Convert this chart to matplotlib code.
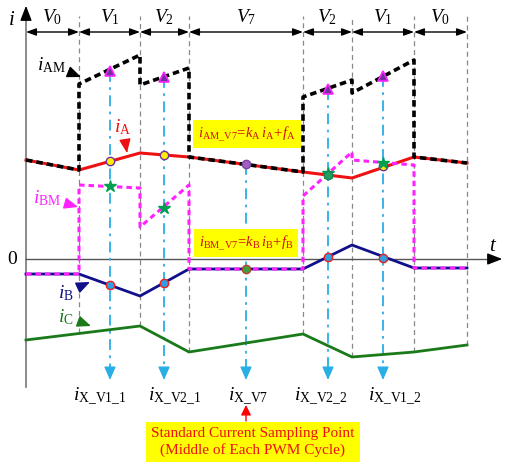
import numpy as np
import matplotlib
matplotlib.use('Agg')
import matplotlib.pyplot as plt

plt.rcParams['font.family'] = ['Liberation Serif', 'DejaVu Serif']
plt.rcParams['mathtext.fontset'] = 'custom'
plt.rcParams['mathtext.rm'] = 'Liberation Serif'
plt.rcParams['mathtext.it'] = 'Liberation Serif:italic'

# time boundaries of the vector sequence (arbitrary time units)
t_bounds = [0, 53, 114, 163, 277, 326, 388, 441]
vec_names = ['0', '1', '2', '7', '2', '1', '0']

# phase currents at the boundaries
i_A = [0.99, 0.89, 1.06, 1.02, 0.87, 0.81, 1.02, 0.96]
i_B = [-0.15, -0.15, -0.37, -0.10, -0.10, 0.14, -0.09, -0.09]
t_C = [0, 114, 163, 277, 326, 388, 441]
i_C = [-0.81, -0.67, -0.93, -0.75, -0.98, -0.93, -0.86]

# measured (DC-link) currents with jumps at switching instants
t_M = [0, 53, 53, 114, 114, 163, 163, 277, 277, 326, 326, 388, 388, 441]
i_AM = [0.99, 0.89, 1.75, 2.04, 1.74, 1.91, 1.02, 0.87, 1.62, 1.79, 1.66, 1.99, 1.02, 0.96]
i_BM = [-0.15, -0.15, 0.74, 0.71, 0.32, 0.74, -0.10, -0.10, 0.63, 1.07, 0.99, 0.94, -0.09, -0.09]

# sampling instants and sampled values
t_samp = [84, 138, 220, 302, 357]
samp_labels = ['X\\_V1\\_1', 'X\\_V2\\_1', 'X\\_V7', 'X\\_V2\\_2', 'X\\_V1\\_2']
label_x = [47, 122, 202, 268, 342]
samp_AM = [1.88, 1.82, None, 1.70, 1.83]
samp_A = [0.98, 1.04, 0.95, 0.84, 0.93]
samp_BM = [0.73, 0.51, None, 0.86, 0.96]
samp_B = [-0.26, -0.24, -0.10, 0.02, 0.01]

fig = plt.figure(figsize=(5.05, 4.65), dpi=100)
ax = fig.add_axes([0, 0, 1, 1])
ax.set_xlim(-26, 479)
ax.set_ylim(-2.06, 2.59)
ax.axis('off')

red = '#ee1111'
navy = '#10108a'
green = '#1a7a1a'
mag = '#ff22ff'
cyan = '#2aaee6'

# axes
ax.plot([0, 0], [-1.28, 2.45], color='#777777', lw=1.2, zorder=2)
ax.annotate('', xy=(0, 2.56), xytext=(0, 2.40),
            arrowprops=dict(arrowstyle='-|>,head_length=0.9,head_width=0.35', color='black', lw=1))
ax.plot([0, 468], [0, 0], color='#555555', lw=1, zorder=2)
ax.annotate('', xy=(479, 0), xytext=(462, 0),
            arrowprops=dict(arrowstyle='-|>,head_length=0.9,head_width=0.35', color='black', lw=1))
ax.text(-14, 2.39, r'$i$', fontsize=15, ha='center', va='center')
ax.text(467, 0.13, r'$t$', fontsize=15, ha='center', va='center')
ax.text(-14, 0.0, '0', fontsize=14, ha='center', va='center')

# boundary dashed lines
for tb in t_bounds[1:]:
    bot = np.interp(tb, t_C, i_C)
    ax.plot([tb, tb], [bot, 2.43], color='#888888', lw=0.9, ls=(0, (4, 3)), zorder=1)

# vector interval arrows and names
for k in range(len(vec_names)):
    a, b = t_bounds[k], t_bounds[k + 1]
    ax.annotate('', xy=(b, 2.27), xytext=(a, 2.27),
                arrowprops=dict(arrowstyle='<|-|>,head_length=0.6,head_width=0.22',
                                color='black', lw=1, shrinkA=0, shrinkB=0))
    ax.text((a + b) / 2, 2.42, r'$V_{%s}$' % vec_names[k], fontsize=14, ha='center', va='center')

# currents
ax.plot(t_bounds, i_A, color=red, lw=2.2, zorder=3)
ax.plot(t_M, i_AM, color='black', lw=2.6, ls=(0, (1.8, 1.1)), zorder=4)
ax.plot(t_bounds, i_B, color=navy, lw=2.0, zorder=3)
ax.plot(t_M, i_BM, color=mag, lw=2.2, ls=(0, (1.8, 1.3)), zorder=4)
ax.plot(t_C, i_C, color=green, lw=2.0, zorder=3)

# sampling lines and arrows
for k, ts in enumerate(t_samp):
    top = samp_AM[k] if samp_AM[k] is not None else samp_A[k]
    ax.plot([ts, ts], [top, -1.10], color=cyan, lw=1.3, ls=(0, (6, 3, 1.5, 3)), zorder=2)
    ax.annotate('', xy=(ts, -1.21), xytext=(ts, -1.09),
                arrowprops=dict(arrowstyle='-|>,head_length=0.8,head_width=0.35',
                                color=cyan, lw=1, shrinkA=0, shrinkB=0))
    ax.text(label_x[k], -1.38, r'$i_{\rm %s}$' % samp_labels[k], fontsize=14,
            ha='left', va='center')

# markers
for k, ts in enumerate(t_samp):
    if samp_AM[k] is not None:
        ax.plot(ts, samp_AM[k], marker='^', ms=7, mfc='#7030a0', mec=mag, mew=1.2, zorder=6)
    if samp_BM[k] is not None:
        ax.plot(ts, samp_BM[k], marker='*', ms=9, color='#00a050', zorder=6)
    if k == 2:
        ax.plot(ts, samp_A[k], marker='o', ms=6, mfc='#a060c0', mec='#8040a0', zorder=6)
        ax.plot(ts, samp_B[k], marker='o', ms=6, mfc='#40a040', mec='#c04030', zorder=6)
    elif k == 3:
        ax.plot(ts, samp_A[k], marker='o', ms=6, mfc='#20a060', mec='#208050', zorder=6)
        ax.plot(ts, samp_B[k], marker='o', ms=6, mfc='#30a0e0', mec='#ee2020', zorder=6)
    else:
        ax.plot(ts, samp_A[k], marker='o', ms=6, mfc='#ffee00', mec='#7030a0', zorder=5)
        ax.plot(ts, samp_B[k], marker='o', ms=6, mfc='#30a0e0', mec='#ee2020', zorder=6)

# curve labels
def tag(txt, xy_txt, xy_arr, col):
    ax.annotate(txt, xy=xy_arr, xytext=xy_txt, fontsize=14, color=col, ha='center', va='center',
                arrowprops=dict(arrowstyle='-|>,head_length=0.6,head_width=0.25', color=col, lw=1,
                                shrinkA=8, shrinkB=0))

tag(r'$i_{\rm AM}$', (25, 1.94), (55, 1.82), 'black')
tag(r'$i_{\rm A}$', (97, 1.32), (101, 1.06), red)
tag(r'$i_{\rm BM}$', (21, 0.61), (52, 0.52), mag)
tag(r'$i_{\rm B}$', (40, -0.34), (64, -0.23), navy)
tag(r'$i_{\rm C}$', (40, -0.58), (65, -0.67), green)

# formula boxes
ax.text(221, 1.25, r'$i_{\rm AM\_V7}\!=\!k_{\rm A}\,i_{\rm A}\!+\!f_{\rm A}$', fontsize=10.5,
        color='#d01010', ha='center', va='center',
        bbox=dict(facecolor='#ffff00', edgecolor='none', pad=3.5))
ax.text(220, 0.16, r'$i_{\rm BM\_V7}\!=\!k_{\rm B}\,i_{\rm B}\!+\!f_{\rm B}$', fontsize=10.5,
        color='#d01010', ha='center', va='center',
        bbox=dict(facecolor='#ffff00', edgecolor='none', pad=3.5))

# standard sampling point note
ax.annotate('', xy=(220, -1.46), xytext=(220, -1.62),
            arrowprops=dict(arrowstyle='-|>,head_length=0.6,head_width=0.3', color='red', lw=1,
                            shrinkA=0, shrinkB=0))
ax.text(227, -1.83, 'Standard Current Sampling Point\n(Middle of Each PWM Cycle)', fontsize=11,
        color='#ee1010', ha='center', va='center', linespacing=1.2,
        bbox=dict(facecolor='#ffff00', edgecolor='none', pad=4))

fig.savefig('out.png', dpi=100)
